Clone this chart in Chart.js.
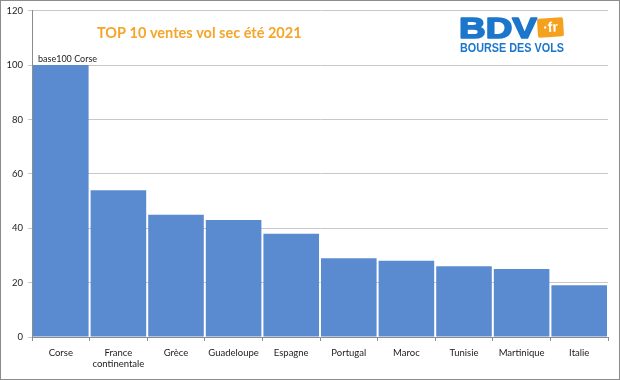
<!DOCTYPE html>
<html><head><meta charset="utf-8">
<script src="https://cdn.jsdelivr.net/npm/chart.js@4/dist/chart.umd.min.js"></script>
<style>
html,body{margin:0;padding:0;background:#fff;}
#wrap{position:relative;width:620px;height:380px;}
#wrap:after{content:"";position:absolute;left:0;top:0;width:618px;height:378px;border:1px solid #8c8c8c;pointer-events:none;}
canvas{display:block;}
</style></head>
<body><div id="wrap"><canvas id="c" width="620" height="380"></canvas></div>
<script>
const categories = ["Corse", ["France","continentale"], "Grèce", "Guadeloupe", "Espagne", "Portugal", "Maroc", "Tunisie", "Martinique", "Italie"];
const values = [100, 54, 45, 43, 38, 29, 28, 26, 25, 19];
const yTicks = [0, 20, 40, 60, 80, 100, 120];
const chartTitle = "TOP 10 ventes vol sec été 2021";
const barNote = "base100 Corse";

const FONT = "Lato, 'Open Sans', 'Liberation Sans', sans-serif";

const overlay = {
  id: 'overlay',
  afterDraw(chart) {
    const ctx = chart.ctx;
    const y = chart.scales.y;
    ctx.save();
    // title
    ctx.fillStyle = '#F5A52A';
    ctx.font = "bold 14.5px " + FONT;
    ctx.textBaseline = 'middle';
    ctx.textAlign = 'left';
    ctx.fillText(chartTitle, 97, 33);
    // note above first bar
    ctx.fillStyle = '#222';
    ctx.font = "9px " + FONT;
    ctx.textBaseline = 'bottom';
    ctx.fillText(barNote, 38, y.getPixelForValue(values[0]) - 1);
    // logo "BDV" stretched to fit
    ctx.textBaseline = 'alphabetic';
    ctx.fillStyle = '#1B76CC';
    ctx.font = "bold 30px 'Liberation Sans', Arial, sans-serif";
    const w = ctx.measureText("BDV").width;
    ctx.save();
    ctx.translate(459, 38);
    ctx.scale(78 / w, 1);
    ctx.lineWidth = 1.6;
    ctx.strokeStyle = '#1B76CC';
    ctx.lineJoin = 'round';
    ctx.strokeText("BDV", 0, 0);
    ctx.fillText("BDV", 0, 0);
    ctx.restore();
    // badge
    ctx.save();
    ctx.translate(550.5, 27.5);
    ctx.rotate(-0.06);
    ctx.fillStyle = '#F6A11E';
    ctx.beginPath();
    ctx.roundRect(-13, -9.5, 26, 19, 2);
    ctx.fill();
    ctx.fillStyle = '#fff';
    ctx.font = "bold 14px 'Liberation Sans', Arial, sans-serif";
    ctx.textAlign = 'center';
    ctx.textBaseline = 'middle';
    ctx.fillText("·fr", 0, 0.5);
    ctx.restore();
    ctx.fillStyle = '#1B76CC';
    ctx.font = "bold 12.5px 'Liberation Sans Narrow', 'Liberation Sans', Arial, sans-serif";
    ctx.textAlign = 'left';
    ctx.fillText("BOURSE DES VOLS", 460, 52, 104);
    ctx.restore();
  }
};

new Chart(document.getElementById('c'), {
  type: 'bar',
  data: {
    labels: categories,
    datasets: [{
      data: values,
      backgroundColor: '#5A8BD1',
      borderWidth: 0,
      barPercentage: 0.965,
      categoryPercentage: 1.0
    }]
  },
  options: {
    responsive: false,
    animation: false,
    layout: { padding: { top: 0, right: 12, left: 0, bottom: 0 } },
    plugins: { legend: { display: false }, tooltip: { enabled: false } },
    scales: {
      x: {
        offset: true,
        grid: { display: true, drawOnChartArea: false, drawTicks: true, tickLength: 4, color: '#8c8c8c', offset: true },
        border: { display: true, color: '#8c8c8c' },
        ticks: { color: '#222', font: { family: FONT, size: 9.5 }, padding: 6, maxRotation: 0, autoSkip: false },
        afterFit(s) { s.height = 43; }
      },
      y: {
        min: 0, max: 120,
        afterBuildTicks(s) { s.ticks = yTicks.map(v => ({ value: v })); },
        grid: { color: '#c8c8c8', tickLength: 4, drawTicks: true },
        border: { display: true, color: '#8c8c8c' },
        ticks: { color: '#222', font: { family: FONT, size: 9.5 }, padding: 5 },
        afterFit(s) { s.width = 32; }
      }
    }
  },
  plugins: [overlay]
});
</script>
</body></html>
